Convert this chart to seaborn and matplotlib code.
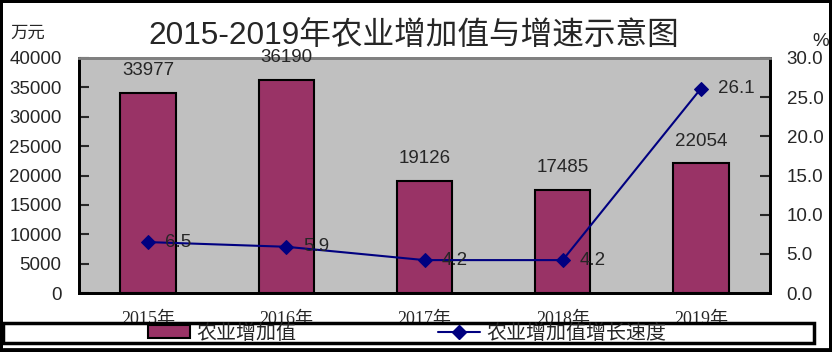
import numpy as np
import pandas as pd
import matplotlib
matplotlib.use("Agg")
import matplotlib.pyplot as plt
import seaborn as sns
from matplotlib.patches import Rectangle, Patch
from matplotlib.lines import Line2D

# Data
years = ["2015年", "2016年", "2017年", "2018年", "2019年"]
value_added = [33977, 36190, 19126, 17485, 22054]   # 万元
growth_rate = [6.5, 5.9, 4.2, 4.2, 26.1]            # %

BAR_COLOR = "#993366"
LINE_COLOR = "#000080"
BG_COLOR = "#C0C0C0"
SANS = ["Liberation Sans", "Noto Sans CJK SC"]
SERIF = ["Liberation Serif", "Noto Sans CJK SC"]

sns.set_style("white")
plt.rcParams["font.family"] = SANS

df = pd.DataFrame({"year": years, "value": value_added, "growth": growth_rate})

fig = plt.figure(figsize=(8.32, 3.52), dpi=100)
fig.patch.set_edgecolor("black")
fig.patch.set_linewidth(3)
ax = fig.add_axes([79 / 832, 59 / 352, 691 / 832, 235 / 352])
ax.set_facecolor(BG_COLOR)

sns.barplot(data=df, x="year", y="value", color=BAR_COLOR, width=0.4,
            edgecolor="black", linewidth=1.5, saturation=1, ax=ax, zorder=2)
ax.set_ylim(0, 40000)
ax.set_xlim(-0.5, 4.5)
ax.set_yticks(np.arange(0, 40001, 5000))
ax.set_xlabel("")
ax.set_ylabel("")
# ticks at category boundaries, labels at centres
ax.set_xticks(np.arange(-0.5, 4.6, 1))
ax.set_xticklabels([])
ax.set_xticks(np.arange(5), minor=True)
ax.set_xticklabels(years, minor=True, family=SERIF, fontsize=13)
ax.tick_params(axis="x", which="major", direction="in", length=6, width=1.5)
ax.tick_params(axis="x", which="minor", length=0, pad=13)
ax.tick_params(axis="y", direction="in", length=7, width=1.5, labelsize=13.5, pad=12.5)

ax2 = ax.twinx()
sns.lineplot(x=np.arange(5), y=growth_rate, ax=ax2, color=LINE_COLOR,
             marker="D", markersize=7, markeredgecolor=LINE_COLOR, linewidth=1.5)
ax2.set_ylim(0, 30)
ax2.set_yticks(np.arange(0, 30.1, 5))
ax2.set_yticklabels([f"{t:.1f}" for t in np.arange(0, 30.1, 5)])
ax2.tick_params(axis="y", direction="in", length=7, width=1.5, labelsize=13.5, pad=12)

# bar value labels (drawn on top axes so they sit over the top spine)
for i, v in enumerate(value_added):
    ax2.annotate(str(v), (i, v), xycoords=ax.transData, xytext=(0, 10),
                 textcoords="offset points", ha="center", va="bottom",
                 fontsize=13.5, annotation_clip=False, zorder=5)
for i, g in enumerate(growth_rate):
    ax2.annotate(f"{g:.1f}", (i, g), xytext=(12, 0), textcoords="offset points",
                 ha="left", va="center", fontsize=13.5, zorder=5)

for a in (ax, ax2):
    for side in ("left", "bottom", "right"):
        a.spines[side].set_color("black")
        a.spines[side].set_linewidth(2)
    a.spines["top"].set_color("#808080")
    a.spines["top"].set_linewidth(2)

fig.text(414 / 832, 1 - 36 / 352, "2015-2019年农业增加值与增速示意图",
         ha="center", va="center", fontsize=22.8)
fig.text(10 / 832, 1 - 34 / 352, "万元", ha="left", va="center", fontsize=12.5,
         family=SERIF)
fig.text(821 / 832, 1 - 41 / 352, "%", ha="center", va="center", fontsize=13.5)

# Legend box across the bottom
box = Rectangle((3 / 832, 9 / 352), 811 / 832, 20 / 352, transform=fig.transFigure,
                facecolor="white", edgecolor="black", linewidth=2.5, zorder=4)
fig.patches.append(box)
fig.add_artist(Line2D([3 / 832, 829 / 832], [3 / 352, 3 / 352],
                      transform=fig.transFigure, color="black", linewidth=2))
handles = [Patch(facecolor=BAR_COLOR, edgecolor="black", linewidth=1.5),
           Line2D([], [], color=LINE_COLOR, marker="D", markersize=7, linewidth=1.5)]
leg = fig.legend(handles, ["农业增加值", "农业增加值增长速度"], loc="center left",
                 bbox_to_anchor=(148 / 832, 19 / 352), ncol=2, frameon=False,
                 handlelength=2.1, handleheight=0.6, handletextpad=0.3,
                 columnspacing=7.1, borderpad=0, borderaxespad=0,
                 prop={"family": SANS, "size": 14.4})
leg.set_zorder(6)

fig.savefig("out.png", dpi=100)
